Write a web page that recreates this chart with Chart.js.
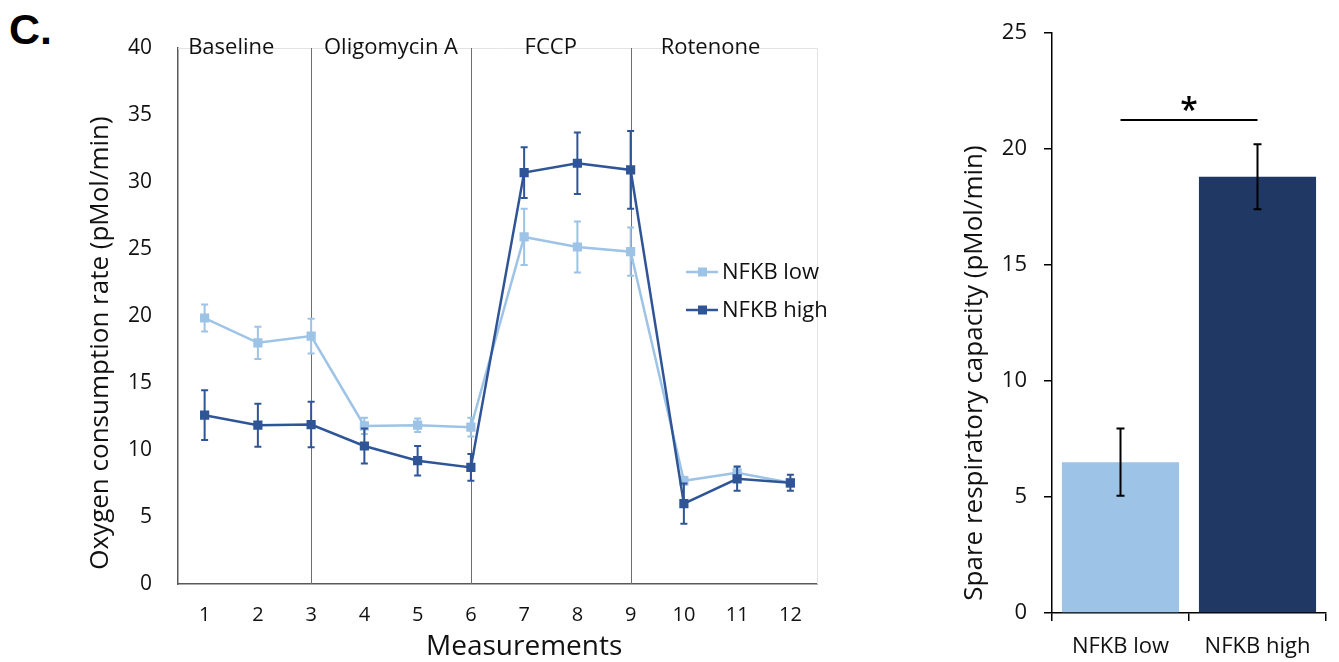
<!DOCTYPE html>
<html lang="en">
<head>
  <meta charset="UTF-8" />
  <title>Oxygen consumption - NFKB low / high</title>
  <script src="https://cdn.jsdelivr.net/npm/chart.js"></script>
  <style>
    body { margin: 0; background: #fff; width: 1339px; height: 662px; position: relative; overflow: hidden; }
    #panel { position: absolute; left: 9px; top: 5px; font: bold 43px "Liberation Sans", Arial, sans-serif; color: #000; }
    #ocrChart { position: absolute; left: 0; top: 0; }
    #srcChart { position: absolute; left: 940px; top: 0; }
  </style>
</head>
<body>
  <div id="panel">C.</div>
  <canvas id="ocrChart" width="860" height="662"></canvas>
  <canvas id="srcChart" width="399" height="662"></canvas>

  <script>
    // measurements
    const measurements = ['1', '2', '3', '4', '5', '6', '7', '8', '9', '10', '11', '12'];
    const nfkbLow = [19.85, 18.0, 18.5, 11.8, 11.85, 11.7, 25.9, 25.15, 24.8, 7.7, 8.3, 7.55];
    const nfkbLowErr = [1.0, 1.2, 1.3, 0.6, 0.5, 0.7, 2.1, 1.9, 1.8, 0.3, 0.5, 0.3];
    const nfkbHigh = [12.6, 11.85, 11.9, 10.3, 9.2, 8.7, 30.7, 31.4, 30.9, 6.0, 7.85, 7.55];
    const nfkbHighErr = [1.85, 1.6, 1.7, 1.3, 1.1, 1.0, 1.9, 2.3, 2.9, 1.5, 0.9, 0.6];
    const phases = ['Baseline', 'Oligomycin A', 'FCCP', 'Rotenone'];
    const injectionAfter = ['3', '6', '9'];

    // spare respiratory capacity
    const groups = ['NFKB low', 'NFKB high'];
    const spareCapacity = [6.5, 18.8];
    const spareErr = [1.45, 1.4];
    const sigLevel = 21.25;

    const FONT = '"Open Sans", "DejaVu Sans", sans-serif';
    const LIGHT = '#9DC3E6';
    const DARK = '#2F5597';
    const NAVY = '#203864';

    // error bars, drawn right after each dataset
    const errorBars = {
      id: 'errorBars',
      afterDatasetDraw(chart, args) {
        const ds = chart.data.datasets[args.index];
        if (!ds.errors) return;
        const y = chart.scales.y;
        const ctx = chart.ctx;
        ctx.save();
        ctx.strokeStyle = ds.errorColor || ds.borderColor;
        ctx.lineWidth = ds.errorWidth || 2;
        const cap = ds.capHalf || 4;
        args.meta.data.forEach((el, j) => {
          const v = ds.data[j], e = ds.errors[j];
          const top = y.getPixelForValue(v + e), bot = y.getPixelForValue(v - e);
          ctx.beginPath();
          ctx.moveTo(el.x, top); ctx.lineTo(el.x, bot);
          ctx.moveTo(el.x - cap, top); ctx.lineTo(el.x + cap, top);
          ctx.moveTo(el.x - cap, bot); ctx.lineTo(el.x + cap, bot);
          ctx.stroke();
        });
        ctx.restore();
      }
    };

    const ocrDecor = {
      id: 'ocrDecor',
      beforeDatasetsDraw(chart) {
        const { ctx, chartArea: a, scales: { x } } = chart;
        ctx.save();
        // faint frame top / right
        ctx.strokeStyle = '#e3e3e3';
        ctx.lineWidth = 1;
        ctx.beginPath();
        ctx.moveTo(a.left, a.top + 0.5); ctx.lineTo(a.right + 0.5, a.top + 0.5); ctx.lineTo(a.right + 0.5, a.bottom);
        ctx.stroke();
        // injection lines
        ctx.strokeStyle = '#6e6e6e';
        injectionAfter.forEach(m => {
          const px = Math.round(x.getPixelForValue(measurements.indexOf(m))) + 0.5;
          ctx.beginPath();
          ctx.moveTo(px, a.top); ctx.lineTo(px, a.bottom);
          ctx.stroke();
        });
        ctx.restore();
      },
      afterDraw(chart) {
        const { ctx, scales: { x } } = chart;
        ctx.save();
        ctx.fillStyle = '#111';
        ctx.textAlign = 'center';
        ctx.textBaseline = 'alphabetic';
        // phase labels
        ctx.font = '22px ' + FONT;
        const centers = [0.5, 3.5, 6.5, 9.5];
        phases.forEach((p, i) => ctx.fillText(p, x.getPixelForValue(centers[i]), 54));
        // x title
        ctx.font = '28px ' + FONT;
        ctx.fillText('Measurements', x.getPixelForValue(6), 655);
        // y title
        ctx.font = '26px ' + FONT;
        ctx.translate(108, 343);
        ctx.rotate(-Math.PI / 2);
        ctx.fillText('Oxygen consumption rate (pMol/min)', 0, 0);
        ctx.restore();

        // legend
        ctx.save();
        ctx.font = '22px ' + FONT;
        ctx.textAlign = 'left';
        chart.data.datasets.forEach((ds, i) => {
          const ly = [272, 310][i];
          ctx.strokeStyle = ds.borderColor;
          ctx.fillStyle = ds.borderColor;
          ctx.lineWidth = 2.5;
          ctx.beginPath();
          ctx.moveTo(686, ly); ctx.lineTo(718, ly);
          ctx.stroke();
          ctx.fillRect(698, ly - 4.5, 9, 9);
          ctx.fillStyle = '#111';
          ctx.textBaseline = 'middle';
          ctx.fillText(ds.label, 722, ly + 1);
        });
        ctx.restore();
      }
    };

    new Chart(document.getElementById('ocrChart'), {
      type: 'line',
      data: {
        labels: measurements,
        datasets: [
          { label: 'NFKB low', data: nfkbLow, errors: nfkbLowErr, borderColor: LIGHT, backgroundColor: LIGHT,
            borderWidth: 2.5, pointStyle: 'rect', pointRadius: 6.5, pointBorderWidth: 0, capHalf: 3.5, order: 1 },
          { label: 'NFKB high', data: nfkbHigh, errors: nfkbHighErr, borderColor: DARK, backgroundColor: DARK,
            borderWidth: 2.5, pointStyle: 'rect', pointRadius: 6.5, pointBorderWidth: 0, capHalf: 3.5, order: 0 }
        ]
      },
      options: {
        responsive: false,
        animation: false,
        layout: { padding: { left: 80, top: 48, right: 43, bottom: 0 } },
        plugins: { legend: { display: false }, tooltip: { enabled: false } },
        scales: {
          x: {
            offset: true,
            grid: { display: false, drawTicks: false },
            border: { color: '#595959', width: 1.5 },
            ticks: { color: '#111', font: { family: FONT, size: 20 }, padding: 19 },
            afterFit: s => { s.height = 78; }
          },
          y: {
            min: 0, max: 40,
            grid: { display: false, drawTicks: false },
            border: { color: '#595959', width: 1.5 },
            ticks: { stepSize: 5, color: '#111', font: { family: FONT, size: 21 }, padding: 26 },
            afterFit: s => { s.width = 98; }
          }
        }
      },
      plugins: [errorBars, ocrDecor]
    });

    const srcDecor = {
      id: 'srcDecor',
      afterDraw(chart) {
        const { ctx, scales: { x, y } } = chart;
        ctx.save();
        // significance bar
        const sy = y.getPixelForValue(sigLevel);
        const x0 = x.getPixelForValue(0), x1 = x.getPixelForValue(1);
        ctx.strokeStyle = '#000';
        ctx.lineWidth = 2;
        ctx.beginPath();
        ctx.moveTo(x0, sy); ctx.lineTo(x1, sy);
        ctx.stroke();
        ctx.fillStyle = '#000';
        ctx.font = '600 32px ' + FONT;
        ctx.textAlign = 'center';
        ctx.textBaseline = 'alphabetic';
        const m = ctx.measureText('*');
        const mid = (m.actualBoundingBoxAscent - m.actualBoundingBoxDescent) / 2;
        ctx.fillText('*', (x0 + x1) / 2, sy - 17 + mid);
        // y title
        ctx.fillStyle = '#111';
        ctx.font = '26px ' + FONT;
        ctx.translate(982 - 940, 373);
        ctx.rotate(-Math.PI / 2);
        ctx.fillText('Spare respiratory capacity (pMol/min)', 0, 0);
        ctx.restore();
      }
    };

    new Chart(document.getElementById('srcChart'), {
      type: 'bar',
      data: {
        labels: groups,
        datasets: [{
          label: 'Spare respiratory capacity',
          data: spareCapacity,
          errors: spareErr,
          backgroundColor: [LIGHT, NAVY],
          errorColor: '#000',
          capHalf: 4,
          barPercentage: 0.855,
          categoryPercentage: 1
        }]
      },
      options: {
        responsive: false,
        animation: false,
        layout: { padding: { left: 0, top: 33, right: 13, bottom: 0 } },
        plugins: { legend: { display: false }, tooltip: { enabled: false } },
        scales: {
          x: {
            grid: { display: true, drawOnChartArea: false, drawTicks: true, tickLength: 8, color: '#000', lineWidth: 1.5, offset: true },
            border: { color: '#000', width: 1.5 },
            ticks: { color: '#111', font: { family: FONT, size: 22 }, padding: 13 },
            afterFit: s => { s.height = 49; }
          },
          y: {
            min: 0, max: 25,
            grid: { display: true, drawOnChartArea: false, drawTicks: true, tickLength: 8, color: '#000', lineWidth: 1.5 },
            border: { color: '#000', width: 1.5 },
            ticks: { stepSize: 5, color: '#111', font: { family: FONT, size: 22 }, padding: 17 },
            afterFit: s => { s.width = 112; }
          }
        }
      },
      plugins: [errorBars, srcDecor]
    });
  </script>
</body>
</html>
